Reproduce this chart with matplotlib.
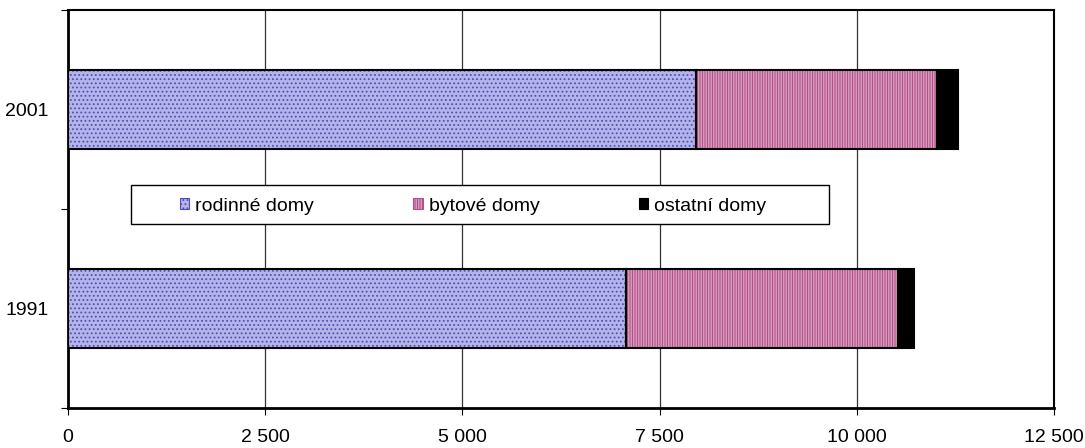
import matplotlib as mpl
mpl.use("Agg")
import matplotlib.pyplot as plt
import numpy as np

years = ["1991", "2001"]
rodinne = [7074, 7962]
bytove = [3448, 3055]
ostatni = [203, 266]
series_names = ["rodinné domy", "bytové domy", "ostatní domy"]
x_ticks = [0, 2500, 5000, 7500, 10000, 12500]

plt.rcParams["font.family"] = ["Liberation Sans", "DejaVu Sans"]
plt.rcParams["hatch.linewidth"] = 0.8

fig = plt.figure(figsize=(10.85, 4.48), dpi=100)
ax = fig.add_axes([68 / 1085, 40 / 448, 986 / 1085, 398 / 448])

ypos = np.arange(len(years))
h = 0.4

# fills with pattern (hatch colour = edgecolor), then black outline on top
styles = [
    dict(facecolor="#b4b4ea", hatch_color="#5050b4", hatch="...."),
    dict(facecolor="#f0d4e2", hatch_color="#b4508a", hatch="|" * 10),
    dict(facecolor="black", hatch_color="black", hatch=None),
]
left = np.zeros(len(years))
handles = []
for vals, st, name in zip([rodinne, bytove, ostatni], styles, series_names):
    ax.barh(ypos, vals, h, left=left, color=st["facecolor"],
            edgecolor=st["hatch_color"], hatch=st["hatch"], linewidth=0, zorder=3)
    ax.barh(ypos, vals, h, left=left, fill=False, edgecolor="black",
            linewidth=1.5, zorder=4)
    left += np.array(vals)
    handles.append(mpl.patches.Patch(facecolor=st["facecolor"], edgecolor=st["hatch_color"],
                                     hatch=st["hatch"], linewidth=0.8, label=name))

ax.set_xlim(0, 12500)
ax.set_ylim(-0.5, 1.5)
ax.set_xticks(x_ticks)
ax.set_xticklabels([f"{v:,}".replace(",", " ") for v in x_ticks], fontsize=14)
ax.set_yticks(ypos)
ax.set_yticklabels(years, fontsize=14)
ax.set_yticks([-0.5, 0.5, 1.5], minor=True)
ax.tick_params(axis="y", which="major", length=0, pad=14)
ax.tick_params(axis="y", which="minor", length=5, width=0.8, direction="out")
ax.tick_params(axis="x", length=5, width=0.8, direction="out", pad=10)

ax.grid(axis="x", color="#333333", linewidth=0.9, zorder=0)
ax.set_axisbelow(True)
for side in ["left", "bottom"]:
    ax.spines[side].set_linewidth(2)
for side in ["top", "right"]:
    ax.spines[side].set_linewidth(1.5)

# legend box drawn separately so the padding can match the original
box = mpl.patches.Rectangle(((131 - 68) / 986, (408 - 224) / 398), 698 / 986, 39 / 398,
                            transform=ax.transAxes, facecolor="white", edgecolor="black",
                            linewidth=1.0, zorder=5)
ax.add_patch(box)
leg = ax.legend(handles=handles, ncol=3, loc="center",
                bbox_to_anchor=((473 - 68) / 986, (408 - 206) / 398),
                fontsize=14, frameon=False,
                handlelength=0.5, handleheight=0.5, handletextpad=0.3,
                columnspacing=5.1, borderaxespad=0, borderpad=0)
leg.set_zorder(6)

fig.savefig("out.png", dpi=100)
